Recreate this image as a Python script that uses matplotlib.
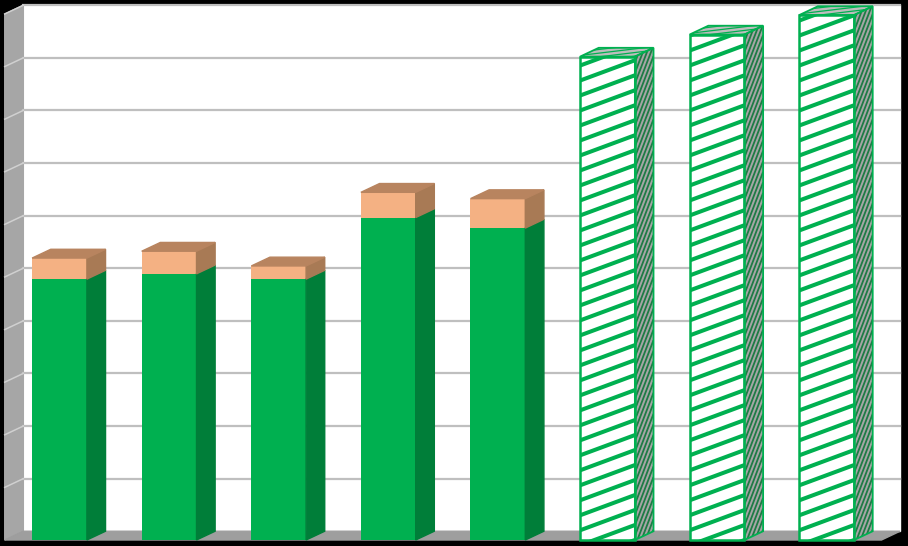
import matplotlib.pyplot as plt
import numpy as np
from matplotlib.patches import Polygon

# chart values (no axis labels in the original)
positions = np.arange(8)
green_values = [4.96, 5.06, 4.96, 6.13, 5.93]
orange_values = [0.40, 0.43, 0.25, 0.48, 0.56]
hatched_values = [9.19, 9.61, 9.98]
grid_values = np.arange(1, 11)
value_max = 10

GREEN = "#00B050"
GREEN_SIDE = "#007E39"
ORANGE = "#F4B183"
ORANGE_TOP = "#B8845F"
ORANGE_SIDE = "#A87A55"
WALL = "#A6A6A6"
FLOOR = "#9E9E9E"
GRID = "#BFBFBF"

BAR_W = 0.5
DX, DY = 0.17, 0.167  # depth offset of the fake 3d boxes
X0, X1 = -0.5, 7.5
XLIM = (-0.543, 7.742)
YLIM = (-0.114, 10.266)


def px_ratio():
    # pixels per x unit divided by pixels per y unit
    return (908 / (XLIM[1] - XLIM[0])) / (546 / (YLIM[1] - YLIM[0]))


def side_poly(x_right, bottom, top):
    return [(x_right, bottom), (x_right + DX, bottom + DY),
            (x_right + DX, top + DY), (x_right, top)]


def top_poly(x_left, top):
    return [(x_left, top), (x_left + BAR_W, top),
            (x_left + BAR_W + DX, top + DY), (x_left + DX, top + DY)]


def stripes(ax, clip, x_left, width, bottom, top, slope_px, step, color, lw, z):
    slope = slope_px * px_ratio()
    rise = slope * width
    for c in np.arange(bottom - rise, top + step, step):
        line, = ax.plot([x_left, x_left + width], [c, c + rise], color=color,
                        lw=lw, solid_capstyle="butt", zorder=z)
        line.set_clip_path(clip)


fig = plt.figure(figsize=(9.08, 5.46), dpi=100, facecolor="black")
ax = fig.add_axes([0, 0, 1, 1])
ax.set_xlim(*XLIM)
ax.set_ylim(*YLIM)
ax.axis("off")

# walls and floor
ax.add_patch(Polygon([(X0 + DX, DY), (X1 + DX, DY), (X1 + DX, value_max + DY),
                      (X0 + DX, value_max + DY)], color="white", zorder=0))
ax.add_patch(Polygon([(X0, 0), (X0 + DX, DY), (X0 + DX, value_max + DY), (X0, value_max)],
                     color=WALL, zorder=0))
ax.add_patch(Polygon([(X0, 0), (X1, 0), (X1 + DX, DY), (X0 + DX, DY)], color=FLOOR, zorder=0))
for g in grid_values:
    ax.plot([X0 + DX, X1 + DX], [g + DY, g + DY], color=GRID, lw=1.6, zorder=1)
    ax.plot([X0, X0 + DX], [g, g + DY], color="#D0D0D0", lw=1.1, zorder=1)

# solid stacked bars
solid_pos = positions[:5]
ax.bar(solid_pos, green_values, width=BAR_W, color=GREEN, zorder=3)
totals = [g + o for g, o in zip(green_values, orange_values)]
ax.bar(solid_pos, orange_values, bottom=green_values, width=BAR_W, color=ORANGE, zorder=3)
for x, g, t in zip(solid_pos, green_values, totals):
    xr = x + BAR_W / 2
    ax.add_patch(Polygon(side_poly(xr, 0, g), color=GREEN_SIDE, zorder=3))
    ax.add_patch(Polygon(side_poly(xr, g, t), color=ORANGE_SIDE, zorder=3))
    ax.add_patch(Polygon(top_poly(x - BAR_W / 2, t), color=ORANGE_TOP, zorder=3))

# hatched bars
hatch_pos = positions[5:]
fronts = ax.bar(hatch_pos, hatched_values, width=BAR_W, color="white", zorder=3)
for x, v, front in zip(hatch_pos, hatched_values, fronts):
    xl, xr = x - BAR_W / 2, x + BAR_W / 2
    stripes(ax, front, xl, BAR_W, 0, v, 0.37, 0.285, GREEN, 2.9, 4)
    side = Polygon(side_poly(xr, 0, v), facecolor=WALL, edgecolor="none", zorder=3)
    ax.add_patch(side)
    stripes(ax, side, xr, DX, 0, v + DY, 2.6, 0.2, "#1E7B45", 1.3, 4)
    top = Polygon(top_poly(xl, v), facecolor="#BDBDBD", edgecolor="none", zorder=3)
    ax.add_patch(top)
    stripes(ax, top, xl, BAR_W + DX, v - 0.3, v + DY, 0.12, 0.07, GREEN, 0.9, 4)
    ax.add_patch(Polygon(side_poly(xr, 0, v), fill=False, edgecolor=GREEN, lw=1.3, zorder=5))
    ax.add_patch(Polygon(top_poly(xl, v), fill=False, edgecolor=GREEN, lw=1.3, zorder=5))
    ax.add_patch(Polygon([(xl, 0), (xr, 0), (xr, v), (xl, v)], fill=False,
                         edgecolor=GREEN, lw=1.8, zorder=5))

fig.savefig("out.png", facecolor=fig.get_facecolor())
